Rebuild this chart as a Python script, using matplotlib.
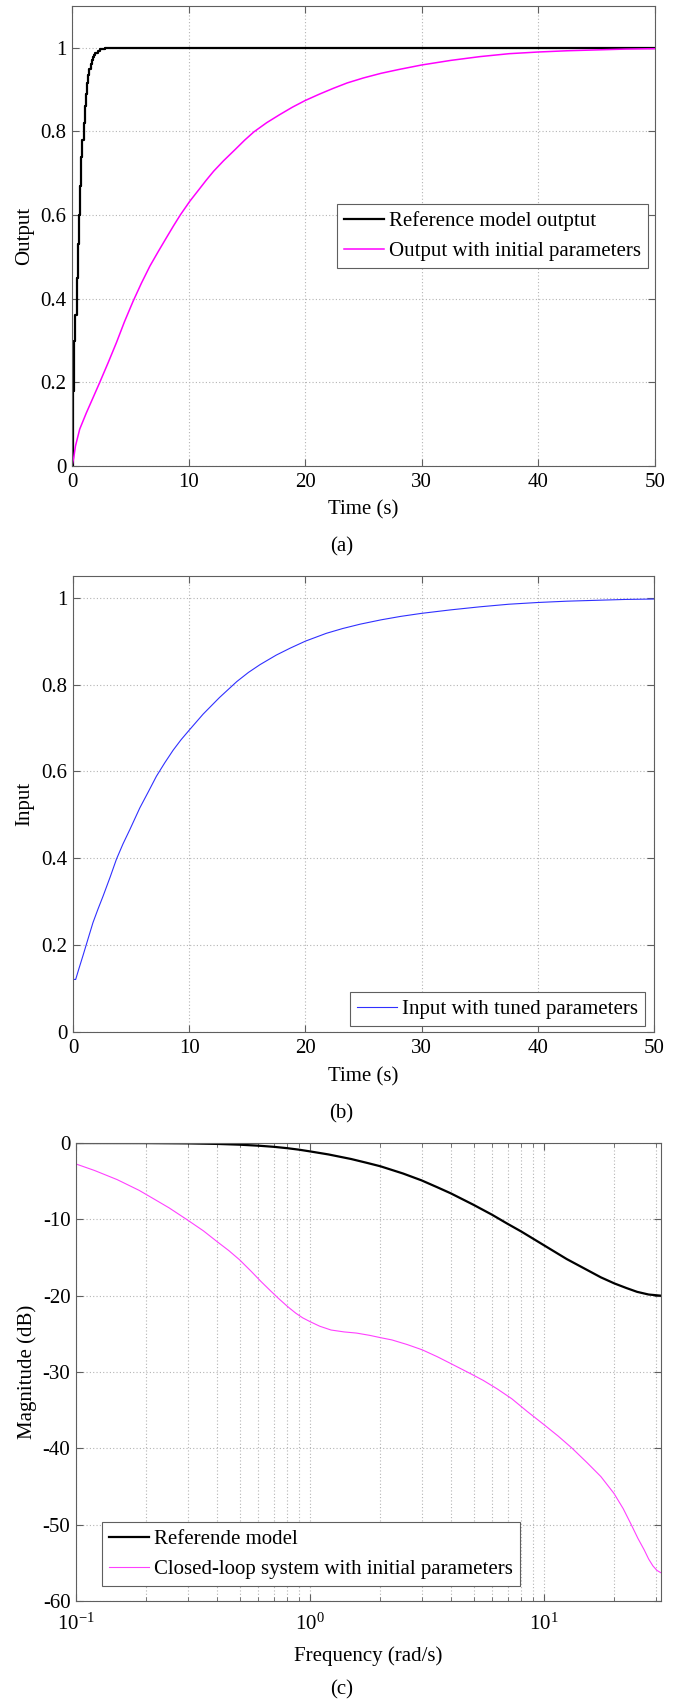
import matplotlib
matplotlib.use("Agg")
import matplotlib.pyplot as plt
from matplotlib.ticker import FuncFormatter, NullFormatter, MultipleLocator

# ---- (a) step responses ----
ref_t = [0, 0.1, 0.2, 0.3, 0.4, 0.5, 0.6, 0.7, 0.8, 0.9, 1.0, 1.1, 1.2, 1.3,
         1.4, 1.5, 1.6, 1.7, 1.8, 1.9, 2.0, 2.2, 2.4, 2.6, 2.8, 3.0, 3.5, 4.0, 50]
ref_y = [0, 0.18, 0.30, 0.36, 0.45, 0.53, 0.60, 0.67, 0.74, 0.78, 0.82, 0.86,
         0.89, 0.915, 0.935, 0.95, 0.962, 0.971, 0.978, 0.984, 0.988, 0.993,
         0.996, 0.998, 0.999, 1.0, 1.0, 1.0, 1.0]

init_t = [0, 0.15, 0.3, 0.66, 1.23, 1.8, 2.38, 3.1, 3.81, 4.5, 5.24, 5.95,
          6.68, 7.4, 8.1, 8.7, 9.28, 10.1, 10.97, 11.5, 12.15, 13, 14, 14.8,
          15.6, 16.7, 17.8, 18.9, 20, 21.2, 22.4, 23.6, 25, 26.5, 28, 30,
          32.5, 35, 37.5, 40, 42.5, 45, 47.5, 50]
init_y = [0, 0.02, 0.048, 0.088, 0.127, 0.163, 0.2, 0.247, 0.295, 0.345,
          0.394, 0.437, 0.478, 0.513, 0.546, 0.574, 0.6, 0.633, 0.664, 0.683,
          0.705, 0.73, 0.757, 0.779, 0.799, 0.821, 0.84, 0.858, 0.874, 0.889,
          0.903, 0.916, 0.928, 0.939, 0.948, 0.959, 0.97, 0.979, 0.986, 0.99,
          0.993, 0.995, 0.997, 0.998]

# ---- (b) input with tuned parameters ----
inp_t = [0, 0, 0.23, 0.5, 0.86, 1.3, 1.72, 2.15, 2.59, 3.2, 3.74, 4.3, 4.89,
         5.75, 6.5, 7.18, 7.9, 8.62, 9.3, 10, 11.2, 12.6, 14.1, 15.1, 16.1,
         17.5, 18.7, 20, 21.8, 23.2, 24.7, 26.5, 28.2, 30, 32.5, 35, 37.5,
         40, 42.5, 45, 47.5, 50]
inp_y = [1.2, 0.121, 0.121, 0.145, 0.176, 0.215, 0.252, 0.283, 0.313, 0.357,
         0.398, 0.433, 0.466, 0.516, 0.554, 0.589, 0.62, 0.649, 0.673, 0.695,
         0.732, 0.770, 0.807, 0.828, 0.846, 0.868, 0.884, 0.90, 0.918, 0.929,
         0.939, 0.949, 0.957, 0.964, 0.972, 0.979, 0.985, 0.989, 0.992,
         0.994, 0.996, 0.997]

# ---- (c) magnitude responses ----
ref_w = [0.1, 0.2, 0.3, 0.4, 0.5, 0.6, 0.7, 0.8, 0.9, 1.0, 1.2, 1.5, 1.75,
         2.0, 2.5, 3.0, 3.5, 4.0, 5.0, 6.0, 7.0, 8.0, 10, 12.5, 15, 17.5, 20,
         22.5, 25, 28, 31.6]
ref_db = [0, -0.01, -0.05, -0.12, -0.22, -0.35, -0.5, -0.68, -0.88, -1.1,
          -1.5, -2.1, -2.6, -3.05, -4.0, -4.9, -5.8, -6.6, -8.1, -9.4, -10.6,
          -11.6, -13.4, -15.2, -16.5, -17.6, -18.4, -19.0, -19.5, -19.85, -20.0]

cl_w = [0.1, 0.12, 0.15, 0.186, 0.22, 0.25, 0.3, 0.35, 0.4, 0.45, 0.5, 0.56,
        0.62, 0.68, 0.73, 0.8, 0.87, 0.93, 1.0, 1.1, 1.23, 1.4, 1.58, 1.8,
        2.0, 2.24, 2.6, 3.02, 3.5, 4.0, 4.84, 5.5, 6.3, 7.28, 8.5, 10, 11.5,
        13.2, 15.3, 17.5, 19.9, 21.8, 23.6, 25.2, 26.8, 28, 29.2, 30.4, 31.6]
cl_db = [-2.75, -3.6, -4.8, -6.2, -7.5, -8.5, -10.1, -11.5, -12.9, -14.1,
         -15.3, -16.8, -18.2, -19.4, -20.3, -21.4, -22.3, -22.9, -23.4, -24.0,
         -24.5, -24.75, -24.9, -25.2, -25.5, -25.8, -26.4, -27.1, -28.0,
         -28.9, -30.2, -31.1, -32.2, -33.5, -35.2, -36.9, -38.4, -40, -41.9,
         -43.7, -45.9, -47.9, -50, -51.8, -53.3, -54.5, -55.4, -56.0, -56.3]

plt.rcParams['font.family'] = ['Liberation Serif', 'DejaVu Serif']
plt.rcParams['mathtext.fontset'] = 'custom'
plt.rcParams['mathtext.rm'] = 'Liberation Serif'
plt.rcParams['axes.unicode_minus'] = False
plt.rcParams['font.size'] = 15

W, H = 683, 1704
fig = plt.figure(figsize=(W / 100, H / 100), dpi=100)


def box(l, r, t, b):
    return [l / W, 1 - b / H, (r - l) / W, (b - t) / H]


spine_c = '#5f5f5f'
grid_kw = dict(color='#b4b4b4', linestyle=(0, (1, 2)), linewidth=0.8)


def style(ax, xpad=5):
    for s in ax.spines.values():
        s.set_color(spine_c)
        s.set_linewidth(0.8)
    ax.tick_params(which='both', direction='in', top=True, right=True,
                   color=spine_c, labelsize=15)
    ax.tick_params(which='major', length=5, width=0.8)
    ax.tick_params(which='minor', length=3, width=0.6)
    ax.tick_params(axis='x', pad=xpad)
    ax.tick_params(axis='y', pad=4)


fmt = FuncFormatter(lambda v, p: '%g' % v)


def legend(ax, x, y):
    leg = ax.legend(loc='upper left', bbox_to_anchor=(x / W, 1 - y / H),
                    bbox_transform=fig.transFigure, borderaxespad=0,
                    fontsize=15, handlelength=1.9, handletextpad=0.25,
                    borderpad=0.35, labelspacing=0.5, fancybox=False,
                    framealpha=1, edgecolor=spine_c)
    leg.get_frame().set_linewidth(0.8)
    return leg


# (a)
ax1 = fig.add_axes(box(72, 655, 6, 466))
ax1.plot(ref_t, ref_y, color='black', lw=1.6, drawstyle='steps-post',
         label='Reference model outptut')
ax1.plot(init_t, init_y, color='#ff00ff', lw=1.1,
         label='Output with initial parameters')
ax1.set_xlim(0, 50)
ax1.set_ylim(0, 1.1)
ax1.xaxis.set_major_locator(MultipleLocator(10))
ax1.yaxis.set_major_locator(MultipleLocator(0.2))
ax1.xaxis.set_major_formatter(fmt)
ax1.yaxis.set_major_formatter(fmt)
ax1.grid(True, **grid_kw)
style(ax1)
ax1.set_xlabel('Time (s)', va='center')
ax1.xaxis.set_label_coords(0.5, -(510 - 466) / 460)
ax1.set_ylabel('Output', va='center')
ax1.yaxis.set_label_coords((25 - 72) / 583, 0.5)
legend(ax1, 337, 204)
fig.text(0.5, 1 - 547 / H, '(a)', ha='center', va='center', fontsize=15)

# (b)
ax2 = fig.add_axes(box(73, 654, 576, 1032))
ax2.plot(inp_t, inp_y, color='#3030ff', lw=0.8,
         label='Input with tuned parameters')
ax2.set_xlim(0, 50)
ax2.set_ylim(0, 1.05)
ax2.xaxis.set_major_locator(MultipleLocator(10))
ax2.yaxis.set_major_locator(MultipleLocator(0.2))
ax2.xaxis.set_major_formatter(fmt)
ax2.yaxis.set_major_formatter(fmt)
ax2.grid(True, **grid_kw)
style(ax2)
ax2.set_xlabel('Time (s)', va='center')
ax2.xaxis.set_label_coords(0.5, -(1077 - 1032) / 456)
ax2.set_ylabel('Input', va='center')
ax2.yaxis.set_label_coords((25 - 73) / 581, 0.5)
legend(ax2, 350, 992)
fig.text(0.5, 1 - 1114 / H, '(b)', ha='center', va='center', fontsize=15)

# (c)
ax3 = fig.add_axes(box(76, 661, 1143, 1601))
ax3.semilogx(ref_w, ref_db, color='black', lw=1.6, label='Referende model')
ax3.semilogx(cl_w, cl_db, color='#ff40ff', lw=0.8,
             label='Closed-loop system with initial parameters')
ax3.set_xlim(0.1, 10 ** 1.5)
ax3.set_ylim(-60, 0)
ax3.yaxis.set_major_locator(MultipleLocator(10))
ax3.yaxis.set_major_formatter(fmt)
ax3.xaxis.set_minor_formatter(NullFormatter())
ax3.grid(True, which='both', **grid_kw)
style(ax3, xpad=9)
ax3.set_xlabel('Frequency (rad/s)', va='center')
ax3.xaxis.set_label_coords(0.5, -(1656 - 1601) / 458)
ax3.set_ylabel('Magnitude (dB)', va='center')
ax3.yaxis.set_label_coords((27 - 76) / 585, 0.5)
legend(ax3, 102, 1522)
fig.text(0.5, 1 - 1690 / H, '(c)', ha='center', va='center', fontsize=15)

fig.savefig('out.png', dpi=100)
